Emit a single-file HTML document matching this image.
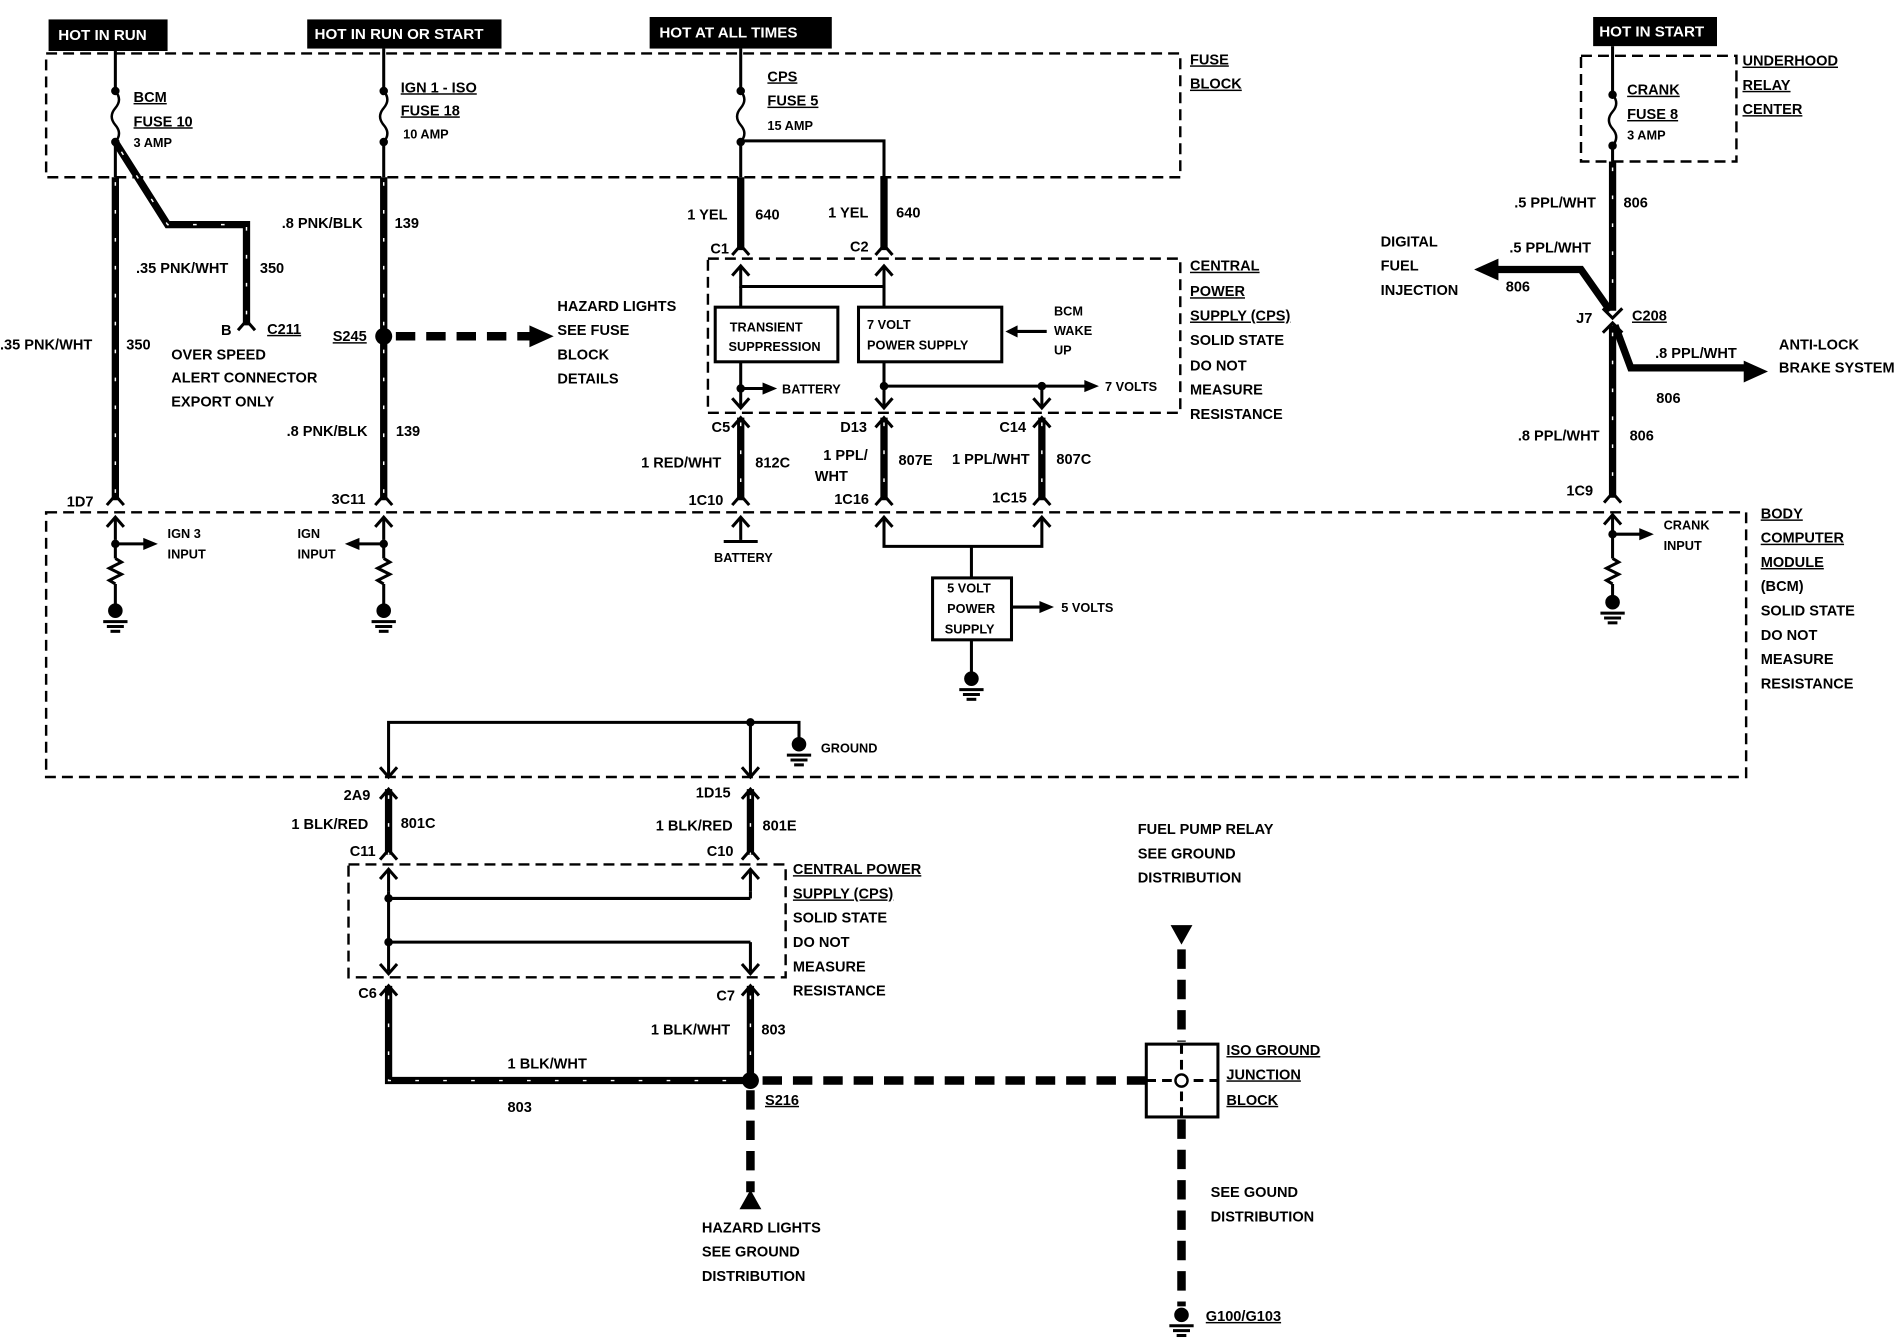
<!DOCTYPE html>
<html><head><meta charset="utf-8"><style>
html,body{margin:0;padding:0;background:#fff;}
svg{display:block}
text{font-family:"Liberation Sans",sans-serif;font-weight:bold;font-size:12px;fill:#000;}
.s{font-size:10.5px}
.h{fill:#fff;font-size:12.5px}
.u{text-decoration:underline}
.w{stroke:#000;stroke-width:6;fill:none}
.ws{stroke:#fff;stroke-width:1.2;fill:none;stroke-dasharray:3 20}
.t{stroke:#000;stroke-width:2.5;fill:none}
.d{stroke:#000;stroke-width:2;fill:none;stroke-dasharray:9 5}
.dd{stroke:#000;stroke-width:7;fill:none;stroke-dasharray:16 9}
</style></head><body>
<svg width="1904" height="1344" viewBox="0 0 1568 1107" preserveAspectRatio="none" xmlns="http://www.w3.org/2000/svg">
<defs>
<g id="fuse"><circle cx="0" cy="0" r="3.5"/><path d="M0 0 q6 7 0 14 q-6 7 0 14 q6 7 0 14" stroke="#000" stroke-width="2" fill="none"/><circle cx="0" cy="42" r="3.5"/></g>
<g id="cf"><polyline points="-7,8 0,0 7,8" class="t"/></g>
<g id="cm"><polyline points="-7,8 0,0 7,8" class="t"/><line x1="0" y1="0" x2="0" y2="18" class="t"/></g>
<g id="cd"><polyline points="-7,-8 0,0 7,-8" class="t"/></g>
<g id="gnd"><circle cx="0" cy="0" r="6"/><line x1="-10" y1="9" x2="10" y2="9" class="t" stroke-width="2"/><line x1="-7" y1="13" x2="7" y2="13" class="t" stroke-width="2"/><line x1="-4" y1="17" x2="4" y2="17" class="t" stroke-width="2"/></g>
<g id="res"><polyline points="0,0 5,3 -5,8 5,13 -5,18 0,21" class="t" stroke-width="2"/></g>
</defs>

<rect x="40" y="16" width="98" height="26" fill="#000"/><text class="h" x="48" y="33">HOT IN RUN</text>
<rect x="253" y="16" width="160" height="24" fill="#000"/><text class="h" x="259" y="32">HOT IN RUN OR START</text>
<rect x="535" y="14" width="150" height="26" fill="#000"/><text class="h" x="543" y="31">HOT AT ALL TIMES</text>
<rect x="1312" y="14" width="102" height="24" fill="#000"/><text class="h" x="1317" y="30">HOT IN START</text>

<rect x="38" y="44" width="934" height="102" class="d"/>
<text class="u" x="980" y="53">FUSE</text><text class="u" x="980" y="73">BLOCK</text>

<line x1="95" y1="42" x2="95" y2="75" class="t"/><use href="#fuse" x="95" y="75"/>
<line x1="95" y1="117" x2="95" y2="146" class="t"/>
<path d="M95 146 V412" class="w"/><path d="M95 150 V412" class="ws"/>
<use href="#cf" x="95" y="408"/>
<path d="M95 117 L138 185 H203 V268" class="w" stroke-width="5"/><path d="M100 125 L138 185 H203 V268" class="ws"/>
<use href="#cf" x="203" y="264"/>
<text class="u" x="110" y="84">BCM</text><text class="u" x="110" y="104">FUSE 10</text><text class="s" x="110" y="121">3 AMP</text>
<text x="112" y="225">.35 PNK/WHT</text><text x="214" y="225">350</text>
<text x="0" y="288">.35 PNK/WHT</text><text x="104" y="288">350</text>
<text x="182" y="276">B</text><text class="u" x="220" y="275">C211</text>
<text x="141" y="296">OVER SPEED</text><text x="141" y="315">ALERT CONNECTOR</text><text x="141" y="335">EXPORT ONLY</text>
<text x="55" y="417">1D7</text>

<line x1="316" y1="40" x2="316" y2="75" class="t"/><use href="#fuse" x="316" y="75"/>
<line x1="316" y1="117" x2="316" y2="146" class="t"/>
<path d="M316 146 V412" class="w"/><path d="M316 150 V412" class="ws"/>
<use href="#cf" x="316" y="408"/>
<circle cx="316" cy="277" r="7"/>
<path d="M326 277 H440" class="dd" stroke-width="7" stroke-dasharray="18 7"/><polygon points="436,268 456,277 436,286"/>
<text class="u" x="330" y="76">IGN 1 - ISO</text><text class="u" x="330" y="95">FUSE 18</text><text class="s" x="332" y="114">10 AMP</text>
<text x="232" y="188">.8 PNK/BLK</text><text x="325" y="188">139</text>
<text class="u" x="274" y="281">S245</text>
<text x="236" y="359">.8 PNK/BLK</text><text x="326" y="359">139</text>
<text x="459" y="256">HAZARD LIGHTS</text><text x="459" y="276">SEE FUSE</text><text x="459" y="296">BLOCK</text><text x="459" y="316">DETAILS</text>
<text x="273" y="415">3C11</text>

<line x1="610" y1="40" x2="610" y2="75" class="t"/><use href="#fuse" x="610" y="75"/>
<line x1="610" y1="117" x2="610" y2="146" class="t"/>
<polyline points="610,116 728,116 728,146" class="t"/>
<path d="M610 146 V206" class="w"/><path d="M728 146 V206" class="w"/>
<use href="#cf" x="610" y="202"/><use href="#cf" x="728" y="202"/>
<text class="u" x="632" y="67">CPS</text><text class="u" x="632" y="87">FUSE 5</text><text class="s" x="632" y="107">15 AMP</text>
<text x="566" y="181">1 YEL</text><text x="622" y="181">640</text>
<text x="682" y="179">1 YEL</text><text x="738" y="179">640</text>
<text x="585" y="209">C1</text><text x="700" y="207">C2</text>
<rect x="583" y="213" width="389" height="127" class="d"/>
<use href="#cm" x="610" y="219"/><use href="#cm" x="728" y="219"/>
<line x1="610" y1="236" x2="728" y2="236" class="t"/>
<line x1="610" y1="236" x2="610" y2="253" class="t"/><line x1="728" y1="236" x2="728" y2="253" class="t"/>
<rect x="589" y="253" width="101" height="45" fill="none" stroke="#000" stroke-width="2.5"/>
<rect x="707" y="253" width="118" height="45" fill="none" stroke="#000" stroke-width="2.5"/>
<text class="s" x="601" y="273">TRANSIENT</text><text class="s" x="600" y="289">SUPPRESSION</text>
<text class="s" x="714" y="271">7 VOLT</text><text class="s" x="714" y="288">POWER SUPPLY</text>
<line x1="862" y1="273" x2="836" y2="273" class="t"/><polygon points="838,268 828,273 838,278"/>
<text class="s" x="868" y="260">BCM</text><text class="s" x="868" y="276">WAKE</text><text class="s" x="868" y="292">UP</text>
<line x1="610" y1="298" x2="610" y2="335" class="t"/><circle cx="610" cy="320" r="3.5"/>
<line x1="610" y1="320" x2="630" y2="320" class="t"/><polygon points="628,315 640,320 628,325"/>
<text class="s" x="644" y="324">BATTERY</text>
<line x1="728" y1="298" x2="728" y2="335" class="t"/><circle cx="728" cy="318" r="3.5"/>
<line x1="728" y1="318" x2="895" y2="318" class="t"/><polygon points="893,313 905,318 893,323"/>
<line x1="858" y1="318" x2="858" y2="335" class="t"/><circle cx="858" cy="318" r="3.5"/>
<text class="s" x="910" y="322">7 VOLTS</text>
<use href="#cd" x="610" y="336"/><use href="#cd" x="728" y="336"/><use href="#cd" x="858" y="336"/>
<path d="M610 344 V412" class="w"/><path d="M610 348 V412" class="ws"/>
<path d="M728 344 V412" class="w"/><path d="M728 348 V412" class="ws"/>
<path d="M858 344 V412" class="w"/><path d="M858 348 V412" class="ws"/>
<polyline points="603,352 610,344 617,352" class="t"/><polyline points="721,352 728,344 735,352" class="t"/><polyline points="851,352 858,344 865,352" class="t"/>
<use href="#cf" x="610" y="408"/><use href="#cf" x="728" y="408"/><use href="#cf" x="858" y="408"/>
<text x="586" y="356">C5</text><text x="692" y="356">D13</text><text x="823" y="356">C14</text>
<text x="528" y="385">1 RED/WHT</text><text x="622" y="385">812C</text>
<text x="678" y="379">1 PPL/</text><text x="671" y="396">WHT</text><text x="740" y="383">807E</text>
<text x="784" y="382">1 PPL/WHT</text><text x="870" y="382">807C</text>
<text x="567" y="416">1C10</text><text x="687" y="415">1C16</text><text x="817" y="414">1C15</text>
<text class="u" x="980" y="223">CENTRAL</text><text class="u" x="980" y="244">POWER</text><text class="u" x="980" y="264">SUPPLY (CPS)</text>
<text x="980" y="284">SOLID STATE</text><text x="980" y="305">DO NOT</text><text x="980" y="325">MEASURE</text><text x="980" y="345">RESISTANCE</text>

<rect x="1302" y="46" width="128" height="87" class="d"/>
<line x1="1328" y1="38" x2="1328" y2="78" class="t"/><use href="#fuse" x="1328" y="78"/>
<line x1="1328" y1="120" x2="1328" y2="133" class="t"/>
<path d="M1328 133 V256" class="w"/><path d="M1328 138 V250" class="ws"/>
<path d="M1328 268 V410" class="w"/><path d="M1328 274 V410" class="ws"/>
<polyline points="1320,254 1328,262 1336,254" class="t"/><polyline points="1320,274 1328,266 1336,274" class="t"/>
<path d="M1326 256 L1302 222 H1230" class="w" stroke-width="5"/><polygon points="1234,213 1214,222 1234,231"/>
<path d="M1330 268 L1343 303 H1440" class="w" stroke-width="5"/><polygon points="1436,297 1456,306 1436,315"/>
<use href="#cf" x="1328" y="406"/>
<text class="u" x="1340" y="78">CRANK</text><text class="u" x="1340" y="98">FUSE 8</text><text class="s" x="1340" y="115">3 AMP</text>
<text class="u" x="1435" y="54">UNDERHOOD</text><text class="u" x="1435" y="74">RELAY</text><text class="u" x="1435" y="94">CENTER</text>
<text x="1247" y="171">.5 PPL/WHT</text><text x="1337" y="171">806</text>
<text x="1137" y="203">DIGITAL</text><text x="1137" y="223">FUEL</text><text x="1137" y="243">INJECTION</text>
<text x="1243" y="208">.5 PPL/WHT</text><text x="1240" y="240">806</text>
<text x="1298" y="266">J7</text><text class="u" x="1344" y="264">C208</text>
<text x="1465" y="288">ANTI-LOCK</text><text x="1465" y="307">BRAKE SYSTEM</text>
<text x="1363" y="295">.8 PPL/WHT</text><text x="1364" y="332">806</text>
<text x="1250" y="363">.8 PPL/WHT</text><text x="1342" y="363">806</text>
<text x="1290" y="408">1C9</text>

<rect x="38" y="422" width="1400" height="218" class="d"/>
<text class="u" x="1450" y="427">BODY</text><text class="u" x="1450" y="447">COMPUTER</text><text class="u" x="1450" y="467">MODULE</text>
<text x="1450" y="487">(BCM)</text><text x="1450" y="507">SOLID STATE</text><text x="1450" y="527">DO NOT</text><text x="1450" y="547">MEASURE</text><text x="1450" y="567">RESISTANCE</text>
<use href="#cm" x="95" y="426"/><line x1="95" y1="444" x2="95" y2="460" class="t"/><circle cx="95" cy="448" r="3.5"/>
<line x1="95" y1="448" x2="120" y2="448" class="t"/><polygon points="118,443 130,448 118,453"/>
<use href="#res" x="95" y="460"/><line x1="95" y1="481" x2="95" y2="500" class="t"/><use href="#gnd" x="95" y="503"/>
<text class="s" x="138" y="443">IGN 3</text><text class="s" x="138" y="460">INPUT</text>
<use href="#cm" x="316" y="426"/><line x1="316" y1="444" x2="316" y2="460" class="t"/><circle cx="316" cy="448" r="3.5"/>
<line x1="316" y1="448" x2="294" y2="448" class="t"/><polygon points="296,443 284,448 296,453"/>
<use href="#res" x="316" y="460"/><line x1="316" y1="481" x2="316" y2="500" class="t"/><use href="#gnd" x="316" y="503"/>
<text class="s" x="245" y="443">IGN</text><text class="s" x="245" y="460">INPUT</text>
<use href="#cm" x="610" y="426"/><line x1="610" y1="444" x2="610" y2="446" class="t"/><line x1="596" y1="446" x2="624" y2="446" class="t"/>
<text class="s" x="588" y="463">BATTERY</text>
<use href="#cm" x="728" y="426"/><use href="#cm" x="858" y="426"/>
<polyline points="728,444 728,450 858,450 858,444" class="t"/>
<line x1="800" y1="450" x2="800" y2="476" class="t"/>
<rect x="768" y="476" width="65" height="51" fill="none" stroke="#000" stroke-width="2.5"/>
<text class="s" x="780" y="488">5 VOLT</text><text class="s" x="780" y="505">POWER</text><text class="s" x="778" y="522">SUPPLY</text>
<line x1="833" y1="500" x2="858" y2="500" class="t"/><polygon points="856,495 868,500 856,505"/>
<text class="s" x="874" y="504">5 VOLTS</text>
<line x1="800" y1="527" x2="800" y2="556" class="t"/><use href="#gnd" x="800" y="559"/>
<use href="#cm" x="1328" y="424"/><line x1="1328" y1="442" x2="1328" y2="460" class="t"/><circle cx="1328" cy="440" r="3.5"/>
<line x1="1328" y1="440" x2="1352" y2="440" class="t"/><polygon points="1350,435 1362,440 1350,445"/>
<use href="#res" x="1328" y="460"/><line x1="1328" y1="481" x2="1328" y2="493" class="t"/><use href="#gnd" x="1328" y="496"/>
<text class="s" x="1370" y="436">CRANK</text><text class="s" x="1370" y="453">INPUT</text>
<polyline points="320,640 320,595 658,595 658,610" class="t"/>
<line x1="618" y1="595" x2="618" y2="640" class="t"/><circle cx="618" cy="595" r="3.5"/>
<use href="#gnd" x="658" y="613"/><text class="s" x="676" y="620">GROUND</text>
<use href="#cd" x="320" y="640"/><use href="#cd" x="618" y="640"/>

<path d="M320 650 V704" class="w"/><path d="M320 655 V704" class="ws"/>
<path d="M618 650 V704" class="w"/><path d="M618 655 V704" class="ws"/>
<polyline points="313,658 320,650 327,658" class="t"/><polyline points="611,658 618,650 625,658" class="t"/>
<use href="#cf" x="320" y="700"/><use href="#cf" x="618" y="700"/>
<text x="283" y="659">2A9</text><text x="573" y="657">1D15</text>
<text x="240" y="683">1 BLK/RED</text><text x="330" y="682">801C</text>
<text x="540" y="684">1 BLK/RED</text><text x="628" y="684">801E</text>
<text x="288" y="705">C11</text><text x="582" y="705">C10</text>
<rect x="287" y="712" width="360" height="93" class="d"/>
<use href="#cm" x="320" y="716"/><use href="#cm" x="618" y="716"/>
<line x1="320" y1="734" x2="320" y2="800" class="t"/><line x1="618" y1="734" x2="618" y2="740" class="t"/>
<line x1="320" y1="740" x2="618" y2="740" class="t"/><circle cx="320" cy="740" r="3.5"/>
<line x1="320" y1="776" x2="618" y2="776" class="t"/><circle cx="320" cy="776" r="3.5"/>
<line x1="618" y1="776" x2="618" y2="800" class="t"/>
<use href="#cd" x="320" y="802"/><use href="#cd" x="618" y="802"/>
<text class="u" x="653" y="720">CENTRAL POWER</text><text class="u" x="653" y="740">SUPPLY (CPS)</text>
<text x="653" y="760">SOLID STATE</text><text x="653" y="780">DO NOT</text><text x="653" y="800">MEASURE</text><text x="653" y="820">RESISTANCE</text>
<polyline points="313,820 320,812 327,820" class="t"/><polyline points="611,820 618,812 625,820" class="t"/>
<path d="M320 812 V890 H618" class="w"/><path d="M320 820 V890 H612" class="ws"/>
<path d="M618 812 V890" class="w"/><path d="M618 820 V885" class="ws"/>
<circle cx="618" cy="890" r="7"/>
<text x="295" y="822">C6</text><text x="590" y="824">C7</text>
<text x="536" y="852">1 BLK/WHT</text><text x="627" y="852">803</text>
<text x="418" y="880">1 BLK/WHT</text><text x="418" y="916">803</text>
<text class="u" x="630" y="910">S216</text>
<path d="M628 890 H944" class="dd"/>
<path d="M618 898 V982" class="dd"/><polygon points="609,996 618,980 627,996"/>
<text x="578" y="1015">HAZARD LIGHTS</text><text x="578" y="1035">SEE GROUND</text><text x="578" y="1055">DISTRIBUTION</text>
<rect x="944" y="860" width="59" height="60" fill="#fff" stroke="#000" stroke-width="2.5"/>
<line x1="973" y1="860" x2="973" y2="920" class="t" stroke-dasharray="8 5"/><line x1="944" y1="890" x2="1003" y2="890" class="t" stroke-dasharray="8 5"/>
<circle cx="973" cy="890" r="5" fill="#fff" stroke="#000" stroke-width="2"/>
<polygon points="964,762 982,762 973,778"/>
<path d="M973 782 V858" class="dd"/>
<path d="M973 922 V1076" class="dd"/>
<use href="#gnd" x="973" y="1083"/>
<text x="937" y="687">FUEL PUMP RELAY</text><text x="937" y="707">SEE GROUND</text><text x="937" y="727">DISTRIBUTION</text>
<text class="u" x="1010" y="869">ISO GROUND</text><text class="u" x="1010" y="889">JUNCTION</text><text class="u" x="1010" y="910">BLOCK</text>
<text x="997" y="986">SEE GOUND</text><text x="997" y="1006">DISTRIBUTION</text>
<text class="u" x="993" y="1088">G100/G103</text>
</svg>
</body></html>
